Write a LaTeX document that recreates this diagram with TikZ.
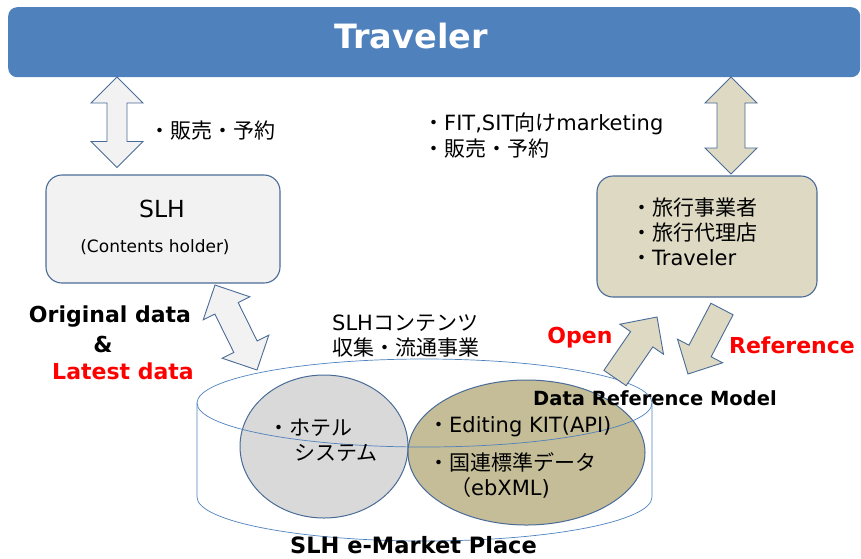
\documentclass[tikz,border=0pt]{standalone}
\usepackage{fontspec}
\setmainfont{DejaVu Sans}
\newfontfamily\jp{Noto Sans CJK JP}
\usetikzlibrary{calc,shapes.geometric}
\definecolor{banner}{HTML}{4F81BD}
\definecolor{edgeblue}{HTML}{4A6B97}
\definecolor{cylblue}{HTML}{4F81BD}
\definecolor{lgray}{HTML}{F2F2F2}
\definecolor{tanlight}{HTML}{DDD9C3}
\definecolor{tandark}{HTML}{C4BD97}
\definecolor{mgray}{HTML}{D9D9D9}
\newcommand\fs[1]{\fontsize{#1}{#1}\selectfont}
\newcommand\dblarrow[6]{%
 \draw[#6] (#1)
 -- ($(#1)!#3pt!(#2)!#4pt!90:(#2)$)
 -- ($(#1)!#3pt!(#2)!#5pt!90:(#2)$)
 -- ($(#2)!#3pt!(#1)!#5pt!-90:(#1)$)
 -- ($(#2)!#3pt!(#1)!#4pt!-90:(#1)$)
 -- (#2)
 -- ($(#2)!#3pt!(#1)!#4pt!90:(#1)$)
 -- ($(#2)!#3pt!(#1)!#5pt!90:(#1)$)
 -- ($(#1)!#3pt!(#2)!#5pt!-90:(#2)$)
 -- ($(#1)!#3pt!(#2)!#4pt!-90:(#2)$)
 -- cycle;}
\newcommand\sglarrow[6]{%
 \draw[#6] ($(#1)!#5pt!90:(#2)$)
 -- ($(#2)!#3pt!(#1)!#5pt!-90:(#1)$)
 -- ($(#2)!#3pt!(#1)!#4pt!-90:(#1)$)
 -- (#2)
 -- ($(#2)!#3pt!(#1)!#4pt!90:(#1)$)
 -- ($(#2)!#3pt!(#1)!#5pt!90:(#1)$)
 -- ($(#1)!#5pt!-90:(#2)$) -- cycle;}
\tikzset{
 box/.style={draw=edgeblue, line width=1.1pt, rounded corners=16pt, inner sep=0pt},
 grayarrow/.style={draw=edgeblue, line width=0.9pt, fill=lgray, line join=miter},
 tanarrow/.style={draw=edgeblue, line width=0.9pt, fill=tanlight, line join=miter},
 jtext/.style={inner sep=0pt, anchor=west, font=\fs{21}},
 btext/.style={inner sep=0pt, anchor=base, font=\fs{22}\bfseries},
 blob/.style={ellipse, draw=edgeblue, line width=1pt, inner sep=0pt},
 cyl/.style={draw=cylblue, line width=0.7pt}
}
\begin{document}
\begin{tikzpicture}[x=1pt,y=-1pt]
\useasboundingbox (0,0) rectangle (861,558);
% banner
\node[fill=banner, rounded corners=9pt, minimum width=852pt, minimum height=70pt, inner sep=0pt, anchor=north west] (trav) at (8,7) {};
\node[anchor=base, inner sep=0pt, text=white, font=\fs{33.5}\bfseries] (travtxt) at (411,48) {Traveler};
% boxes
\node[box, fill=lgray, minimum width=234pt, minimum height=108pt] (slh) at (163,229) {};
\node[box, fill=tanlight, minimum width=220pt, minimum height=121pt] (agent) at (707,236.5) {};
% vertical arrows
\coordinate (la1) at (117,77);
\coordinate (la2) at (117,167.5);
\dblarrow{la1}{la2}{26}{26}{10}{grayarrow}
\coordinate (ra1) at (731,77);
\coordinate (ra2) at (731,174);
\dblarrow{ra1}{ra2}{26}{26}{14}{tanarrow}
% ellipses
\node[blob, fill=mgray, minimum width=168pt, minimum height=143pt] (hotel) at (324,446.5) {};
\node[blob, fill=tandark, minimum width=237pt, minimum height=145pt] (kit) at (526.5,452.5) {};
% cylinder
\draw[cyl] (424.5,403) ellipse[x radius=227.5pt, y radius=44pt];
\draw[cyl] (197,403) -- (197,497) arc[start angle=180, end angle=360, x radius=227.5pt, y radius=44pt] -- (652,403);
% diagonal arrows
\coordinate (da1) at (215,285);
\coordinate (da2) at (257,370);
\dblarrow{da1}{da2}{26}{26}{13}{grayarrow}
\coordinate (ot) at (615,378);
\coordinate (op) at (657,317);
\sglarrow{ot}{op}{27}{26.5}{13.5}{tanarrow}
\coordinate (rt) at (722,309);
\coordinate (rp) at (688,374);
\sglarrow{rt}{rp}{26}{25.5}{12.5}{tanarrow}
% texts
\node[jtext] (t1) at (149,131) {\jp ・販売・予約};
\node[jtext] (t2) at (423,124) {{\jp ・}FIT,SIT{\jp 向け}marketing};
\node[jtext] (t3) at (423,149) {\jp ・販売・予約};
\node[anchor=base, inner sep=0pt, font=\fs{23.5}] (slht) at (162,217) {SLH};
\node[anchor=base, inner sep=0pt, font=\fs{17}] (slhc) at (155,252) {(Contents holder)};
\node[jtext] (a1) at (631,208) {\jp ・旅行事業者};
\node[jtext] (a2) at (631,233) {\jp ・旅行代理店};
\node[jtext] (a3) at (631,258) {{\jp ・}Traveler};
\node[jtext] (c1) at (332,323) {{SLH}{\jp コンテンツ}};
\node[jtext] (c2) at (332,348) {\jp 収集・流通事業};
\node[btext] (od) at (110,322) {Original data};
\node[btext] (amp) at (103,352) {\&};
\node[btext, text=red] (ld) at (123,379) {Latest data};
\node[btext, text=red] (open) at (580,343) {Open};
\node[btext, text=red] (ref) at (792,353) {Reference};
\node[anchor=base, inner sep=0pt, font=\fs{19.5}\bfseries] (drm) at (655,405) {Data Reference Model};
\node[jtext] (h1) at (268,428) {\jp ・ホテル};
\node[jtext] (h2) at (294,453) {\jp システム};
\node[jtext] (k1) at (428,427) {{\jp ・}Editing KIT(API)};
\node[jtext] (k2) at (428,462) {\jp ・国連標準データ};
\node[jtext] (k3) at (450,488) {{\jp （}ebXML)};
\node[anchor=base, inner sep=0pt, font=\fs{22.5}\bfseries] (mkt) at (413.5,553.5) {SLH e-Market Place};
\end{tikzpicture}
\end{document}
